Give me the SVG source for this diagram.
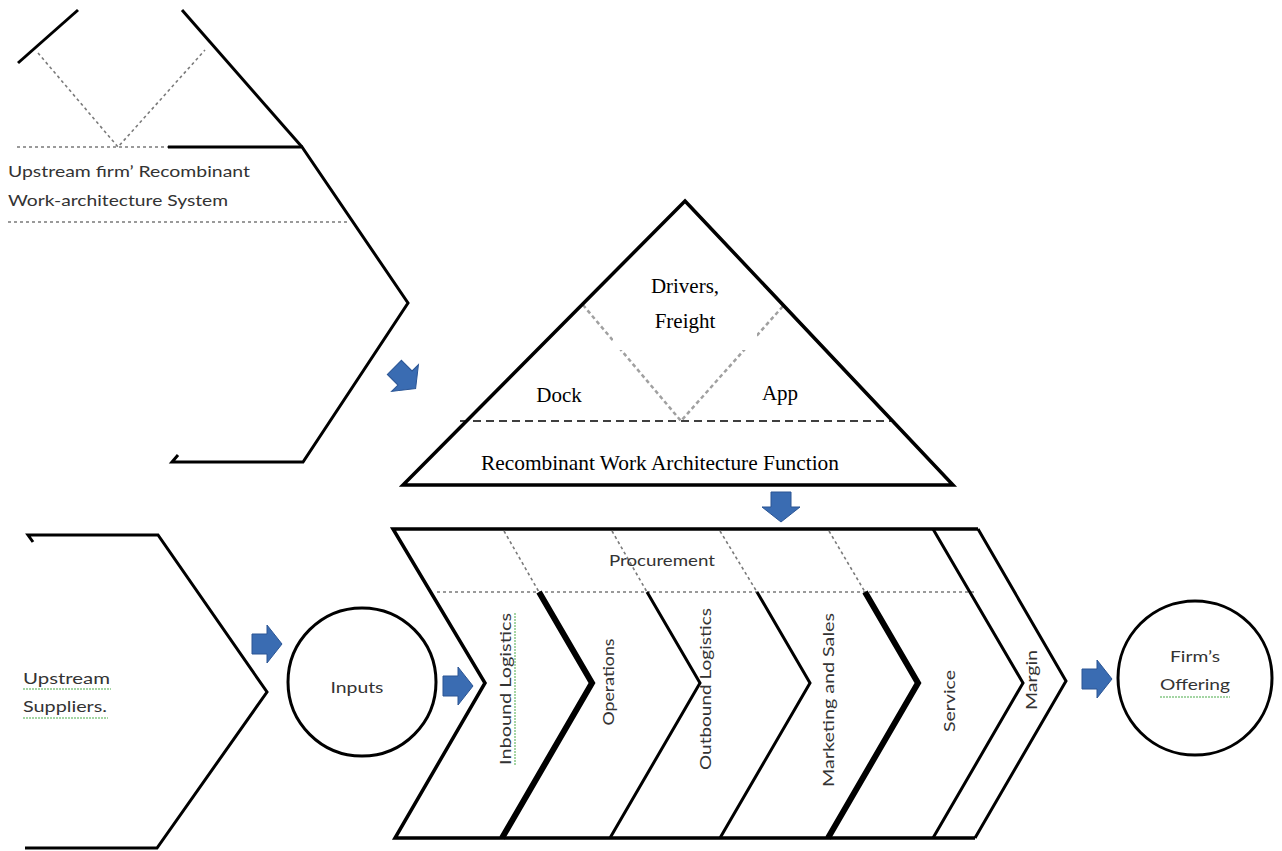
<svg xmlns="http://www.w3.org/2000/svg" xmlns:xlink="http://www.w3.org/1999/xlink" width="1282" height="851" viewBox="0 0 1282 851">
<defs>
<style>
.ln{fill:none;stroke:#000;stroke-width:3;stroke-linejoin:miter}
.bold{fill:none;stroke:#000;stroke-width:6;stroke-linejoin:miter}
.dot{fill:none;stroke:#7a7a7a;stroke-width:1.6;stroke-dasharray:3 3}
.vdot{fill:none;stroke:#a0a0a0;stroke-width:2.5;stroke-dasharray:4 3}
.dash{fill:none;stroke:#000;stroke-width:1.6;stroke-dasharray:8 5}
.cal{font-family:Lato,"Open Sans","Liberation Sans",sans-serif;font-size:16px;fill:#333}
.tnr{font-family:"Liberation Serif","Times New Roman",serif;font-size:21px;fill:#000}
.arrow{fill:#3a6cb2;stroke:#2b5594;stroke-width:1}
.sq{fill:none;stroke:#86c886;stroke-width:1.5;stroke-dasharray:2 1}
.box{fill:#fff;stroke:none}
</style>
<path id="rarrow" d="M-15,-10 H0 V-19 L15,0 L0,19 V10 H-15 Z"/>
</defs>
<rect width="1282" height="851" fill="#fff"/>

<g id="upstream-firm">
<path class="ln" d="M18,63 L78,10"/>
<path class="ln" d="M182,10 L302,147"/>
<path class="ln" d="M168,147 H302 L408,303 L303,462 H172 L178,455"/>
<polyline class="dot" points="38,53 118,147 205,50"/>
<path class="dot" d="M17,147 H168"/>
<path class="dot" d="M8,222 H348"/>
<text class="cal" x="8" y="177" textLength="242" lengthAdjust="spacingAndGlyphs">Upstream firm’ Recombinant</text>
<text class="cal" x="8" y="206" textLength="220" lengthAdjust="spacingAndGlyphs">Work-architecture System</text>
</g>

<g id="rwa-triangle">
<polyline class="vdot" points="583,305 681,421 784,305"/>
<rect class="box" x="613" y="243" width="144" height="107"/>
<rect class="box" x="517" y="353" width="96" height="67"/>
<rect class="box" x="742" y="353" width="100" height="67"/>
<polygon fill="none" stroke="#000" stroke-width="3.5" points="685,201 953,485 403,485"/>
<path class="dash" d="M460,421 H893"/>
<text class="tnr" x="685" y="293" text-anchor="middle">Drivers,</text>
<text class="tnr" x="685" y="328" text-anchor="middle">Freight</text>
<text class="tnr" x="559" y="402" text-anchor="middle">Dock</text>
<text class="tnr" x="780" y="400" text-anchor="middle">App</text>
<text class="tnr" x="481" y="470" textLength="358" lengthAdjust="spacingAndGlyphs">Recombinant Work Architecture Function</text>
</g>

<g id="upstream-suppliers">
<path class="ln" d="M33,542 L28,535 H158 L267,692 L157,848 H25"/>
<text class="cal" x="23" y="684" textLength="87" lengthAdjust="spacingAndGlyphs">Upstream</text>
<text class="cal" x="23" y="712" textLength="84" lengthAdjust="spacingAndGlyphs">Suppliers.</text>
<path class="sq" d="M23,689 H111"/>
<path class="sq" d="M23,718 H108"/>
</g>

<g id="inputs">
<circle cx="362" cy="682" r="74" fill="none" stroke="#000" stroke-width="3"/>
<text class="cal" x="357" y="693" text-anchor="middle" textLength="53" lengthAdjust="spacingAndGlyphs">Inputs</text>
</g>

<g id="value-chain">
<path d="M978,529 H393 L485,683 L395,838 H975" fill="none" stroke="#000" stroke-width="3.5"/>
<path class="dot" d="M437,592 H975"/>
<path class="dot" d="M504,531 L539,592"/>
<path class="dot" d="M612,531 L647,592"/>
<path class="dot" d="M720,531 L757,592"/>
<path class="dot" d="M829,531 L865,592"/>
<polyline class="bold" points="539,592 592,683 502,838"/>
<polyline class="ln" points="647,592 700,683 610,838"/>
<polyline class="ln" points="757,592 810,683 720,838"/>
<polyline class="bold" points="865,592 918,683 828,838"/>
<polyline class="ln" stroke-width="3.5" points="933,529 1023,683 933,838"/>
<polyline class="ln" points="978,529 1066,681 975,838"/>
<text class="cal" x="662" y="566" text-anchor="middle" textLength="106" lengthAdjust="spacingAndGlyphs">Procurement</text>
<g id="inbound-logistics">
<text class="cal" transform="translate(511,689) rotate(-90)" text-anchor="middle" textLength="152" lengthAdjust="spacingAndGlyphs">Inbound Logistics</text>
<path class="sq" d="M515,613 V765"/>
</g>
<g id="operations"><text class="cal" transform="translate(614,682) rotate(-90)" text-anchor="middle" textLength="87" lengthAdjust="spacingAndGlyphs">Operations</text></g>
<g id="outbound-logistics"><text class="cal" transform="translate(711,689) rotate(-90)" text-anchor="middle" textLength="162" lengthAdjust="spacingAndGlyphs">Outbound Logistics</text></g>
<g id="marketing-sales"><text class="cal" transform="translate(834,700) rotate(-90)" text-anchor="middle" textLength="174" lengthAdjust="spacingAndGlyphs">Marketing and Sales</text></g>
<g id="service"><text class="cal" transform="translate(955,701) rotate(-90)" text-anchor="middle" textLength="62" lengthAdjust="spacingAndGlyphs">Service</text></g>
<g id="margin"><text class="cal" transform="translate(1037,680) rotate(-90)" text-anchor="middle" textLength="60" lengthAdjust="spacingAndGlyphs">Margin</text></g>
</g>

<g id="firms-offering">
<circle cx="1195" cy="678" r="77" fill="none" stroke="#000" stroke-width="3"/>
<text class="cal" x="1195" y="662" text-anchor="middle" textLength="50" lengthAdjust="spacingAndGlyphs">Firm’s</text>
<text class="cal" x="1195" y="690" text-anchor="middle" textLength="70" lengthAdjust="spacingAndGlyphs">Offering</text>
<path class="sq" d="M1160,697 H1230"/>
</g>

<g id="connectors">
<use xlink:href="#rarrow" class="arrow" transform="translate(405,378) rotate(45)"/>
<use xlink:href="#rarrow" class="arrow" transform="translate(781,507) rotate(90)"/>
<use xlink:href="#rarrow" class="arrow" transform="translate(267,644)"/>
<use xlink:href="#rarrow" class="arrow" transform="translate(458,686)"/>
<use xlink:href="#rarrow" class="arrow" transform="translate(1097,679)"/>
</g>
</svg>
